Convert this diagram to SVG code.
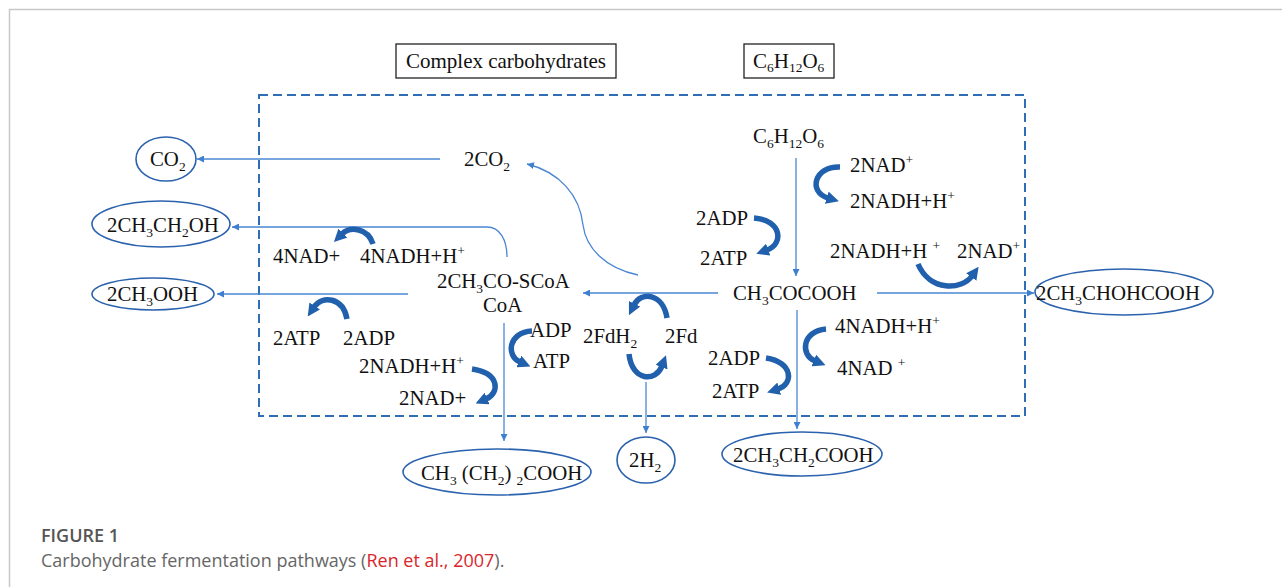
<svg xmlns="http://www.w3.org/2000/svg" width="1282" height="587" viewBox="0 0 1282 587">
<style>
.t{font-family:"Liberation Serif","Times New Roman",serif;font-size:20.8px;fill:#111}
.b{font-size:21px}
.s{font-size:13.5px}
.thin{fill:none;stroke:#4a87d2;stroke-width:1.3}
.bold{fill:none;stroke:#2160ad;stroke-width:5.5}
.ell{fill:none;stroke:#2b62ad;stroke-width:1.6}
.box{fill:#fff;stroke:#222;stroke-width:1.3}
.cap{font-family:"Open Sans","Liberation Sans",sans-serif;font-size:18px}
</style>
<defs>
<marker id="ah" viewBox="0 0 10 10" refX="10" refY="5" markerWidth="7" markerHeight="7" markerUnits="userSpaceOnUse" orient="auto">
<path d="M0,0 L10,5 L0,10 z" fill="#3f7fcf"/>
</marker>
<marker id="bh" viewBox="0 0 10 10" refX="1" refY="5" markerWidth="2.3" markerHeight="2.3" orient="auto">
<path d="M0,0 L10,5 L0,10 z" fill="#2160ad"/>
</marker>
</defs>
<rect width="1282" height="587" fill="#fff"/>
<path d="M9.5,587 V9.5 H1282" fill="none" stroke="#c8c8c8" stroke-width="1.5"/>

<g id="frame">
<rect x="259" y="95" width="766" height="321" fill="none" stroke="#2f6db5" stroke-width="2" stroke-dasharray="9 5"/>
</g>

<g id="connectors">
<path class="thin" d="M440,159 H197" marker-end="url(#ah)"/>
<path class="thin" d="M507,257 C507,240 500,227 487,227 L232,227" marker-end="url(#ah)"/>
<path class="thin" d="M408,294 H217" marker-end="url(#ah)"/>
<path class="thin" d="M638,275 C605,268 586,248 583,225 C580,196 560,172 527,164" marker-end="url(#ah)"/>
<path class="thin" d="M718,293 H583" marker-end="url(#ah)"/>
<path class="thin" d="M877,293 H1034" marker-end="url(#ah)"/>
<path class="thin" d="M796,158 V276" marker-end="url(#ah)"/>
<path class="thin" d="M797,310 V429" marker-end="url(#ah)"/>
<path class="thin" d="M504,323 V441" marker-end="url(#ah)"/>
<path class="thin" d="M646,382 V433" marker-end="url(#ah)"/>
<path class="bold" d="M840,167 C814,166 808,192 828,198" marker-end="url(#bh)"/>
<path class="bold" d="M754,218 C782,220 784,244 767,250" marker-end="url(#bh)"/>
<path class="bold" d="M918,264 C930,292 962,290 972,276" marker-end="url(#bh)"/>
<path class="bold" d="M373,244 C368,228 350,226 342,234" marker-end="url(#bh)"/>
<path class="bold" d="M347,319 C343,297 322,295 314,307" marker-end="url(#bh)"/>
<path class="bold" d="M532,331 C508,332 506,356 520,362" marker-end="url(#bh)"/>
<path class="bold" d="M472,369 C500,373 500,393 486,399" marker-end="url(#bh)"/>
<path class="bold" d="M667,318 C663,293 641,291 634,305" marker-end="url(#bh)"/>
<path class="bold" d="M629,354 C632,382 656,382 662,366" marker-end="url(#bh)"/>
<path class="bold" d="M826,329 C802,331 800,355 815,361" marker-end="url(#bh)"/>
<path class="bold" d="M766,358 C793,362 794,384 778,389" marker-end="url(#bh)"/>
</g>

<g id="complex">
<rect class="box" x="396" y="44" width="220" height="34"/>
<text class="t b" x="506" y="68" text-anchor="middle">Complex carbohydrates</text>
</g>
<g id="glucose-top">
<rect class="box" x="744" y="44" width="90" height="34"/>
<text class="t b" x="753" y="68">C<tspan class="s" dy="4">6</tspan><tspan dy="-4">H</tspan><tspan class="s" dy="4">12</tspan><tspan dy="-4">O</tspan><tspan class="s" dy="4">6</tspan></text>
</g>

<g id="glucose"><text class="t" x="753" y="143">C<tspan class="s" dy="5">6</tspan><tspan dy="-5">H</tspan><tspan class="s" dy="5">12</tspan><tspan dy="-5">O</tspan><tspan class="s" dy="5">6</tspan></text></g>
<g id="nad1"><text class="t" x="850" y="172">2NAD<tspan class="s" dy="-8">+</tspan></text></g>
<g id="nadh1"><text class="t" x="850" y="208">2NADH+H<tspan class="s" dy="-8">+</tspan></text></g>
<g id="adp1"><text class="t" x="696" y="225">2ADP</text></g>
<g id="atp1"><text class="t" x="700" y="265">2ATP</text></g>
<g id="nadh2"><text class="t" x="830" y="258">2NADH+H <tspan class="s" dy="-8">+</tspan></text></g>
<g id="nad2"><text class="t" x="957" y="258">2NAD<tspan class="s" dy="-8">+</tspan></text></g>
<g id="pyruvate"><text class="t" x="733" y="300">CH<tspan class="s" dy="5">3</tspan><tspan dy="-5">COCOOH</tspan></text></g>
<g id="co2mid"><text class="t" x="464" y="166">2CO<tspan class="s" dy="5">2</tspan></text></g>
<g id="nad4"><text class="t" x="273" y="263">4NAD+</text></g>
<g id="nadh4"><text class="t" x="360" y="263">4NADH+H<tspan class="s" dy="-8">+</tspan></text></g>
<g id="acetylcoa"><text class="t" x="437" y="288">2CH<tspan class="s" dy="5">3</tspan><tspan dy="-5">CO-SCoA</tspan></text></g>
<g id="coa"><text class="t" x="483" y="312">CoA</text></g>
<g id="atp2"><text class="t" x="273" y="345">2ATP</text></g>
<g id="adp2"><text class="t" x="343" y="345">2ADP</text></g>
<g id="nadh3"><text class="t" x="359" y="373">2NADH+H<tspan class="s" dy="-8">+</tspan></text></g>
<g id="nad3"><text class="t" x="399" y="405">2NAD+</text></g>
<g id="adp3"><text class="t" x="530" y="337">ADP</text></g>
<g id="atp3"><text class="t" x="533" y="368">ATP</text></g>
<g id="fdh2"><text class="t" x="583" y="343">2FdH<tspan class="s" dy="5">2</tspan></text></g>
<g id="fd"><text class="t" x="665" y="343">2Fd</text></g>
<g id="nadh5"><text class="t" x="835" y="333">4NADH+H<tspan class="s" dy="-8">+</tspan></text></g>
<g id="nad5"><text class="t" x="837" y="375">4NAD <tspan class="s" dy="-8">+</tspan></text></g>
<g id="adp4"><text class="t" x="708" y="365">2ADP</text></g>
<g id="atp4"><text class="t" x="712" y="398">2ATP</text></g>

<g id="co2"><ellipse class="ell" cx="166" cy="159" rx="30" ry="22"/><text class="t" x="150" y="166">CO<tspan class="s" dy="5">2</tspan></text></g>
<g id="ethanol"><ellipse class="ell" cx="161" cy="224" rx="69" ry="23"/><text class="t" x="107" y="232">2CH<tspan class="s" dy="5">3</tspan><tspan dy="-5">CH</tspan><tspan class="s" dy="5">2</tspan><tspan dy="-5">OH</tspan></text></g>
<g id="acetate"><ellipse class="ell" cx="153" cy="294" rx="61" ry="16"/><text class="t" x="107" y="301">2CH<tspan class="s" dy="5">3</tspan><tspan dy="-5">OOH</tspan></text></g>
<g id="butyrate"><ellipse class="ell" cx="497" cy="472" rx="94" ry="23"/><text class="t" x="421" y="480">CH<tspan class="s" dy="5">3</tspan><tspan dy="-5"> (CH</tspan><tspan class="s" dy="5">2</tspan><tspan dy="-5">) </tspan><tspan class="s" dy="5">2</tspan><tspan dy="-5">COOH</tspan></text></g>
<g id="h2"><ellipse class="ell" cx="646" cy="460" rx="29" ry="23"/><text class="t" x="629" y="467">2H<tspan class="s" dy="5">2</tspan></text></g>
<g id="propionate"><ellipse class="ell" cx="802" cy="454" rx="80" ry="22"/><text class="t" x="733" y="462">2CH<tspan class="s" dy="5">3</tspan><tspan dy="-5">CH</tspan><tspan class="s" dy="5">2</tspan><tspan dy="-5">COOH</tspan></text></g>
<g id="lactate"><ellipse class="ell" cx="1124" cy="292" rx="89" ry="23"/><text class="t" x="1036" y="300">2CH<tspan class="s" dy="5">3</tspan><tspan dy="-5">CHOHCOOH</tspan></text></g>

<g id="caption">
<text class="cap" x="41" y="542" fill="#555" font-weight="600">FIGURE 1</text>
<text class="cap" x="41" y="567" fill="#666">Carbohydrate fermentation pathways (<tspan fill="#d9262c">Ren et al., 2007</tspan>).</text>
</g>
</svg>
